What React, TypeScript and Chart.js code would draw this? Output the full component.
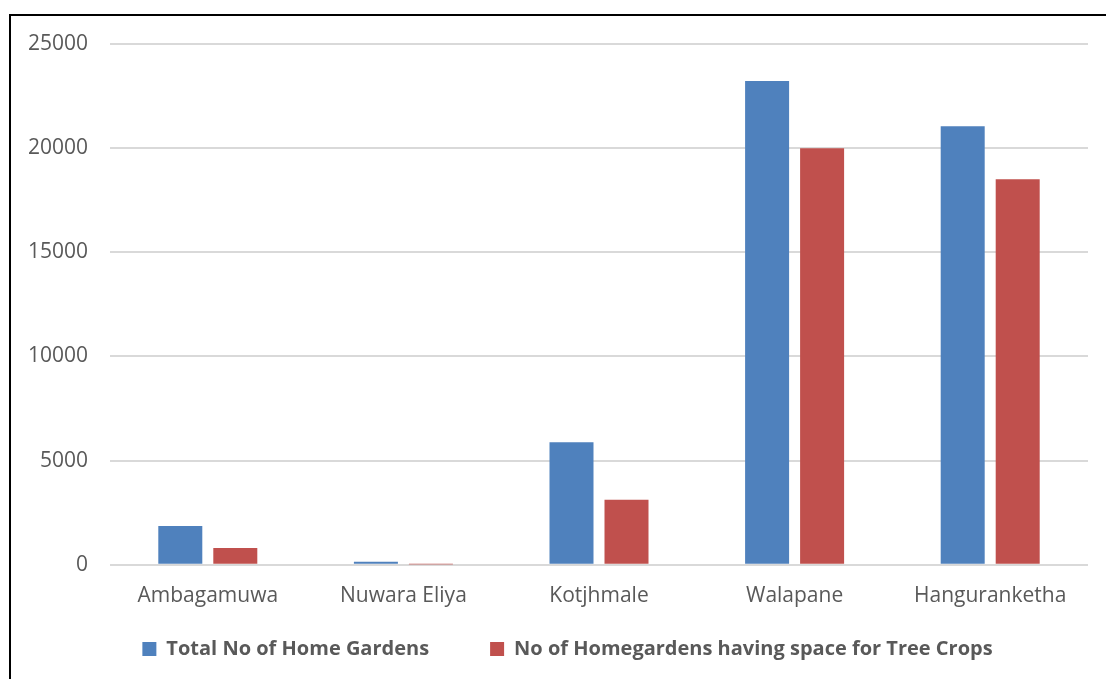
import React, { useEffect, useRef } from "react";
import { Chart, registerables } from "chart.js";

Chart.register(...registerables);

const categories = ["Ambagamuwa", "Nuwara Eliya", "Kotjhmale", "Walapane", "Hanguranketha"];
const totalHomeGardens = [1860, 145, 5880, 23220, 21050];
const treeCropGardens = [805, 20, 3125, 20000, 18510];
const seriesNames = ["Total No of Home Gardens", "No of Homegardens having space for Tree Crops"];
const yTicks = [0, 5000, 10000, 15000, 20000, 25000];

const legendShift = {
  id: "legendShift",
  afterLayout(chart: any) {
    const l = chart.legend;
    if (!l) return;
    const h = l.height;
    l.top = 578;
    l.bottom = 578 + h;
    l.left = 47;
  },
};

export default function App() {
  const ref = useRef<HTMLCanvasElement | null>(null);
  useEffect(() => {
    if (!ref.current) return;
    const chart = new Chart(ref.current, {
      type: "bar",
      data: {
        labels: categories,
        datasets: [
          {
            label: seriesNames[0],
            data: totalHomeGardens,
            backgroundColor: "#4F81BD",
            categoryPercentage: 0.5624,
            barPercentage: 0.8,
          },
          {
            label: seriesNames[1],
            data: treeCropGardens,
            backgroundColor: "#C0504D",
            categoryPercentage: 0.5624,
            barPercentage: 0.8,
          },
        ],
      },
      plugins: [legendShift],
      options: {
        responsive: false,
        animation: false,
        layout: { padding: { top: 44, right: 18, left: 0, bottom: 0 } },
        plugins: {
          tooltip: { enabled: false },
          legend: {
            position: "bottom",
            labels: {
              boxWidth: 14,
              boxHeight: 14,
              padding: 61,
              color: "#595959",
              font: { family: "'Open Sans'", size: 20, weight: "bold" },
            },
          },
        },
        scales: {
          x: {
            display: true,
            grid: { display: false, drawTicks: false },
            border: { display: false },
            ticks: {
              display: true,
              autoSkip: false,
              color: "#595959",
              font: { family: "'Open Sans'", size: 21 },
              padding: 19,
              maxRotation: 0,
              minRotation: 0,
            },
          },
          y: {
            min: 0,
            max: 25000,
            afterBuildTicks: (s: any) => {
              s.ticks = yTicks.map((v) => ({ value: v }));
            },
            grid: { color: "#D9D9D9", lineWidth: 2, drawTicks: false },
            border: { display: false },
            ticks: {
              color: "#595959",
              font: { family: "'Open Sans'", size: 21 },
              padding: 22,
              callback: (v: any) => String(v),
            },
            afterFit: (s: any) => {
              s.width = 110;
            },
          },
        },
      },
    });
    return () => chart.destroy();
  }, []);
  return (
    <div style={{ position: "fixed", left: 0, top: 0, width: 1106, height: 679, overflow: "hidden", background: "#fff" }}>
      <canvas ref={ref} width={1106} height={719} style={{ position: "absolute", left: 0, top: 0 }} />
      <div
        style={{
          position: "absolute",
          left: 9,
          top: 14,
          width: 1110,
          height: 700,
          borderLeft: "2px solid #000",
          borderTop: "2px solid #000",
          pointerEvents: "none",
        }}
      />
    </div>
  );
}
